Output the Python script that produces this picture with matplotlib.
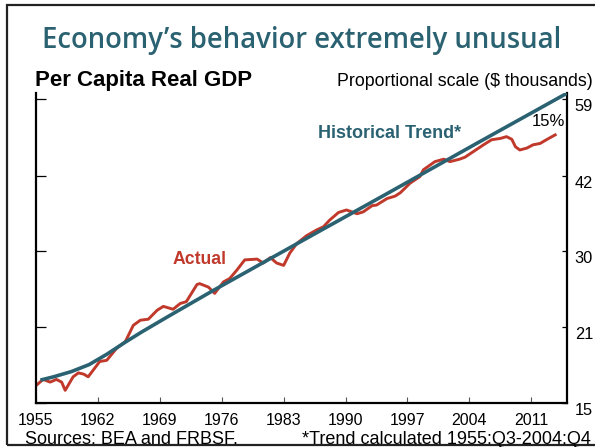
import matplotlib
matplotlib.use('Agg')
import matplotlib.pyplot as plt
from matplotlib.patches import Rectangle
from matplotlib.ticker import NullLocator, FixedLocator

# values ($ thousands, proportional scale)
actual_year = [1955.1, 1955.8, 1956.6, 1957.3, 1957.9, 1958.3, 1959.2, 1959.8,
               1960.4, 1960.9, 1962.2, 1963.0, 1964.1, 1965.1, 1966.0, 1966.8,
               1967.7, 1968.7, 1969.4, 1970.5, 1971.3, 1972.0, 1973.2, 1973.5,
               1974.5, 1975.2, 1976.2, 1976.9, 1977.7, 1978.6, 1980.0, 1980.7,
               1981.5, 1982.2, 1983.0, 1983.7, 1984.5, 1985.6, 1986.7, 1987.5,
               1988.2, 1989.2, 1990.1, 1990.7, 1991.3, 1992.0, 1993.0, 1993.5,
               1994.7, 1995.6, 1996.2, 1997.3, 1998.4, 1998.8, 2000.1, 2001.1,
               2001.8, 2002.9, 2003.5, 2004.4, 2005.6, 2006.5, 2007.5, 2008.2,
               2008.8, 2009.2, 2009.7, 2010.5, 2011.2, 2012.0, 2012.7, 2013.7]
actual_gdp = [16.3, 16.7, 16.5, 16.7, 16.5, 15.9, 16.9, 17.2,
              17.1, 16.9, 18.1, 18.2, 19.2, 19.8, 21.3, 21.8,
              21.9, 22.8, 23.2, 22.9, 23.5, 23.7, 25.6, 25.7,
              25.3, 24.6, 25.9, 26.3, 27.3, 28.6, 28.7, 28.2,
              28.9, 28.2, 27.9, 29.5, 30.8, 31.9, 32.7, 33.2,
              34.2, 35.4, 35.8, 35.5, 35.2, 35.5, 36.5, 36.6,
              37.7, 38.1, 38.7, 40.4, 41.6, 42.9, 44.5, 45.0,
              44.5, 45.0, 45.4, 46.5, 48.0, 49.1, 49.4, 49.8,
              49.2, 47.6, 46.9, 47.3, 48.0, 48.3, 49.1, 50.2]

trend_year = [1955.5, 1957, 1959, 1961, 1963, 1965, 1967, 1970,
              1975, 1985, 1995, 2005, 2015]
trend_gdp = [16.65, 16.9, 17.3, 17.85, 18.7, 19.7, 20.7, 22.2,
             24.9, 31.1, 38.8, 48.5, 60.5]

xticks = [1955, 1962, 1969, 1976, 1983, 1990, 1997, 2004, 2011]
ytick_vals = [15, 21.1, 29.7, 41.8, 58.9]
ytick_labels = ['15', '21', '30', '42', '59']

teal = '#2b6272'
red = '#c0392b'

plt.rcParams['font.family'] = ['Liberation Sans', 'DejaVu Sans']

fig = plt.figure(figsize=(5.95, 4.47), dpi=100)
ax = fig.add_axes([0.0605, 0.0978, 0.8919, 0.6941])

ax.plot(trend_year, trend_gdp, color=teal, lw=2.6, solid_capstyle='butt', zorder=3)
ax.plot(actual_year, actual_gdp, color=red, lw=2.1, zorder=2)

ax.set_yscale('log')
ax.set_xlim(1955, 2015)
ax.set_ylim(15, 60.6)

ax.xaxis.set_major_locator(FixedLocator(xticks))
ax.set_xticklabels([str(y) for y in xticks])
ax.yaxis.set_major_locator(FixedLocator(ytick_vals))
ax.yaxis.set_minor_locator(NullLocator())
ax.set_yticklabels(ytick_labels)

for side in ['left', 'right', 'bottom']:
    ax.spines[side].set_linewidth(1.6)
ax.spines['top'].set_visible(False)

ax.tick_params(axis='x', direction='in', length=4, width=0.8, color='#555555',
               pad=7, labelsize=11.5)
ax.tick_params(axis='y', direction='in', left=True, right=True,
               labelleft=False, labelright=True, width=0.9,
               pad=5.8, labelsize=11.8)
for t in ax.yaxis.get_major_ticks():
    t.tick1line.set_markersize(7.5)
    t.tick1line.set_color('#555555')
    t.tick2line.set_markersize(3.5)
    t.label2.set_verticalalignment('top')

ax.text(1973.5, 28.6, 'Actual', color=red, fontsize=12.7, fontweight='bold',
        ha='center', va='center')
ax.text(1995.0, 50.6, 'Historical Trend*', color=teal, fontsize=13,
        fontweight='bold', ha='center', va='center')
ax.text(2012.9, 53.2, '15%', color='black', fontsize=12, ha='center', va='center')

fig.text(0.507, 0.8937, 'Economy\u2019s behavior extremely unusual', color=teal,
         fontsize=19.8, fontweight='semibold', family=['Open Sans', 'DejaVu Sans'],
         ha='center', va='baseline')
fig.text(35 / 595, 0.8076, 'Per Capita Real GDP', fontsize=16, fontweight='bold',
         ha='left', va='baseline')
fig.text(337 / 595, 0.8076, 'Proportional scale ($ thousands)', fontsize=12.8,
         ha='left', va='baseline')
fig.text(25 / 595, 3.5 / 447, 'Sources: BEA and FRBSF.', fontsize=13,
         ha='left', va='baseline')
fig.text(591 / 595, 3.5 / 447, '*Trend calculated 1955:Q3-2004:Q4', fontsize=13,
         ha='right', va='baseline')

fig.add_artist(Rectangle((7 / 595, 2 / 447), 1.0, 440 / 447, fill=False,
                         lw=1.6, ec='#222222', transform=fig.transFigure))

fig.savefig('out.png', dpi=100)
